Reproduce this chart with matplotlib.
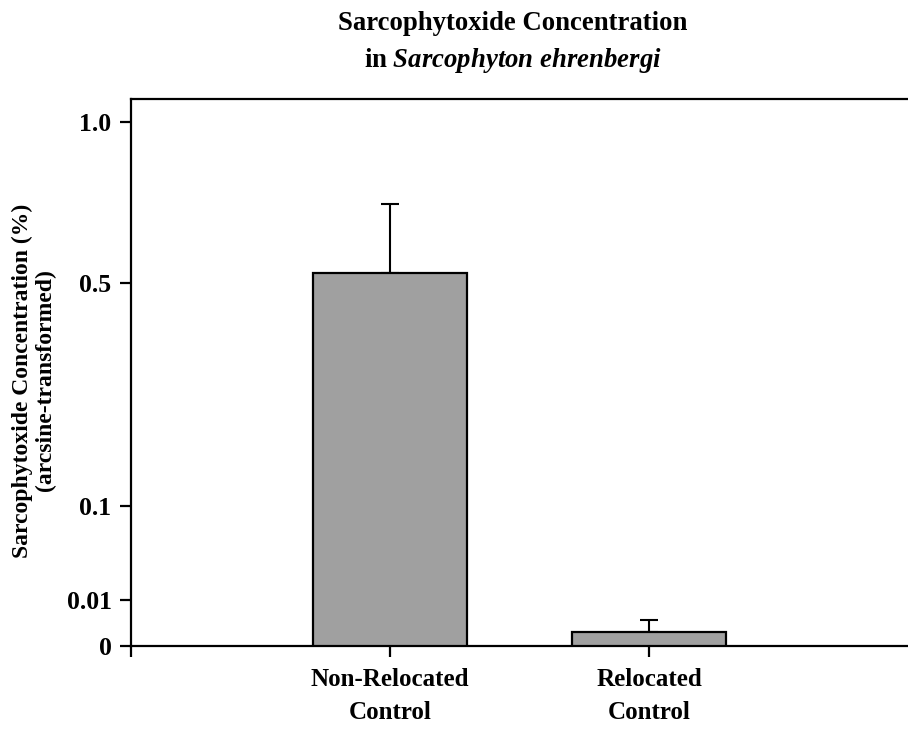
import numpy as np
import matplotlib
matplotlib.use("Agg")
import matplotlib.pyplot as plt

plt.rcParams["font.family"] = ["Liberation Serif", "DejaVu Serif"]
plt.rcParams["font.weight"] = "bold"
plt.rcParams["mathtext.fontset"] = "custom"
plt.rcParams["mathtext.it"] = "Liberation Serif:italic:bold"
plt.rcParams["mathtext.rm"] = "Liberation Serif:bold"

categories = ["Non-Relocated\nControl", "Relocated\nControl"]
means = [0.531, 0.0030]
upper_err = [0.214, 0.0026]

# the y axis of the source uses uneven tick spacing
tick_vals = np.array([0.0, 0.01, 0.1, 0.5, 1.0])
tick_pos = np.array([0.0, 46.0, 140.0, 363.0, 524.0])
tick_labels = ["0", "0.01", "0.1", "0.5", "1.0"]


def forward(v):
    v = np.asarray(v, dtype=float)
    out = np.interp(v, tick_vals, tick_pos)
    slope_hi = (tick_pos[-1] - tick_pos[-2]) / (tick_vals[-1] - tick_vals[-2])
    slope_lo = (tick_pos[1] - tick_pos[0]) / (tick_vals[1] - tick_vals[0])
    out = np.where(v > tick_vals[-1], tick_pos[-1] + (v - tick_vals[-1]) * slope_hi, out)
    out = np.where(v < tick_vals[0], tick_pos[0] + (v - tick_vals[0]) * slope_lo, out)
    return out


def inverse(p):
    p = np.asarray(p, dtype=float)
    out = np.interp(p, tick_pos, tick_vals)
    slope_hi = (tick_vals[-1] - tick_vals[-2]) / (tick_pos[-1] - tick_pos[-2])
    slope_lo = (tick_vals[1] - tick_vals[0]) / (tick_pos[1] - tick_pos[0])
    out = np.where(p > tick_pos[-1], tick_vals[-1] + (p - tick_pos[-1]) * slope_hi, out)
    out = np.where(p < tick_pos[0], tick_vals[0] + (p - tick_pos[0]) * slope_lo, out)
    return out


fig = plt.figure(figsize=(9.08, 7.29), dpi=100)
ax = fig.add_axes([0.1443, 0.1139, 0.8557, 0.7503])
ax.set_yscale("function", functions=(forward, inverse))

x = np.arange(1, len(categories) + 1)
ax.bar(x, means, width=0.595, color="#a0a0a0", edgecolor="black", linewidth=1.6, zorder=3)
ax.errorbar(x, means, yerr=[[0, 0], upper_err], fmt="none", ecolor="black",
            elinewidth=1.5, capsize=6.5, capthick=1.5, zorder=2)

ax.set_xlim(0, 3)
ax.set_ylim(0, 1.071)
ax.set_yticks(tick_vals)
ax.set_yticklabels(tick_labels)
ax.yaxis.set_minor_locator(matplotlib.ticker.NullLocator())
ax.set_xticks([0, 1, 2])
ax.set_xticklabels([""] + categories, linespacing=1.55)

for side in ["left", "top", "bottom"]:
    ax.spines[side].set_linewidth(1.6)
ax.spines["right"].set_visible(False)
ax.tick_params(axis="both", direction="out", length=8, width=1.6, labelsize=18.5, pad=6)
ax.tick_params(axis="x", labelsize=18, pad=8)

fig.text(0.565, 0.941, "Sarcophytoxide Concentration\nin $\\it{Sarcophyton\\ ehrenbergi}$",
         ha="center", va="center", fontsize=19.3, fontweight="bold", linespacing=1.45)
fig.text(0.037, 0.478, "Sarcophytoxide Concentration (%)\n(arcsine-transformed)",
         rotation=90, ha="center", va="center", fontsize=17, fontweight="bold", linespacing=1.1)

fig.savefig("out.png", dpi=100)
